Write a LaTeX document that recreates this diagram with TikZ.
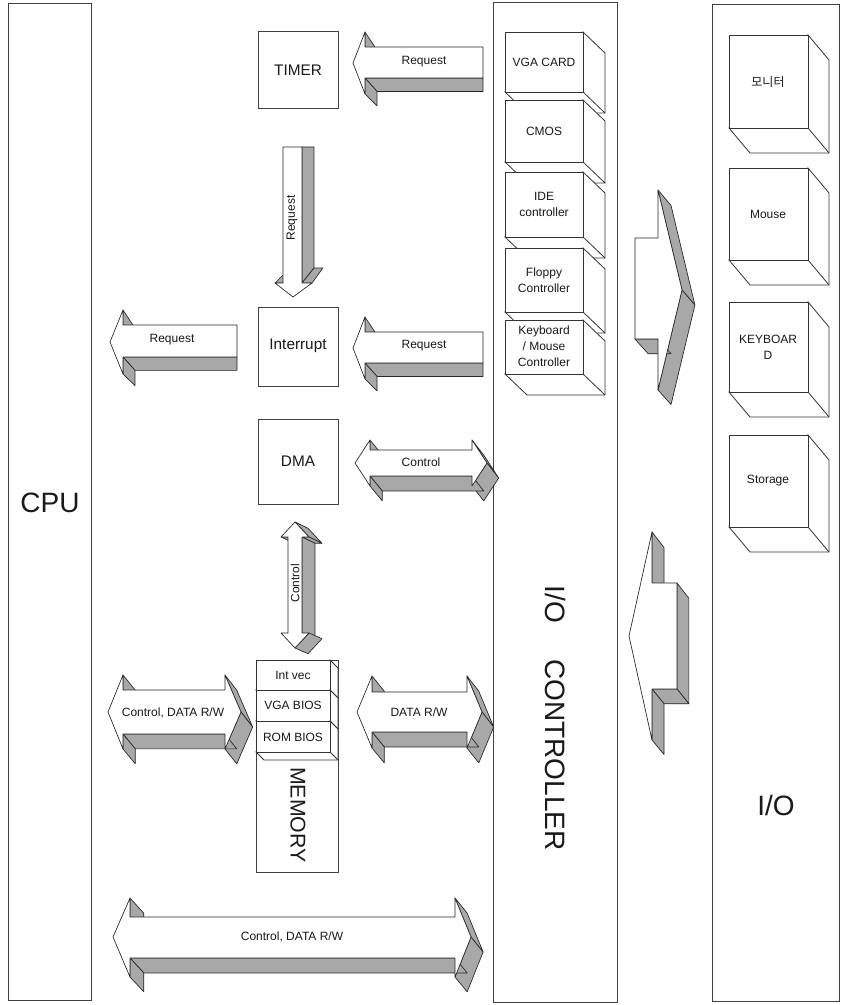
\documentclass[tikz,border=0pt]{standalone}
\usepackage{fontspec}
\setmainfont{Liberation Sans}
\newfontfamily\kofont{Noto Sans CJK KR}
\tikzset{
  box/.style={draw=black!75, line width=0.6pt},
  cubeface/.style={draw=black!80, fill=white, line width=0.6pt},
  arrside/.style={fill=black!34, draw=black!85, line width=0.5pt, line join=round},
  arrfront/.style={fill=white, draw=black!85, line width=0.5pt, line join=round},
  lbl/.style={font=\fontsize{9}{12}\selectfont, align=center, inner sep=0pt, text=black!90},
  midlbl/.style={font=\fontsize{11.5}{13}\selectfont, inner sep=0pt, text=black!90},
  biglbl/.style={font=\fontsize{21}{24}\selectfont, inner sep=0pt, text=black!90},
  memlbl/.style={font=\fontsize{16}{18}\selectfont, inner sep=0pt, text=black!90}
}
% block arrow: #1,#2 vanishing point, #3 depth factor, #4,#5 first point, #6 other points (clockwise on screen)
\newcommand\blockarrow[6]{%
  \foreach \x/\y [remember=\x as \px (initially #4), remember=\y as \py (initially #5)] in {#6,#4/#5}{%
    \pgfmathsetmacro\dxa{#3*(#1-\px)}%
    \pgfmathsetmacro\dya{#3*(#2-\py)}%
    \pgfmathsetmacro\dxb{#3*(#1-\x)}%
    \pgfmathsetmacro\dyb{#3*(#2-\y)}%
    \pgfmathsetmacro\bsgn{(\x-\px)*(\dya+\dyb)/2-(\y-\py)*(\dxa+\dxb)/2}%
    \ifdim\bsgn pt<-0.01pt
      \filldraw[arrside] (\px,\py) -- (\x,\y) -- ({\x+\dxb},{\y+\dyb}) -- ({\px+\dxa},{\py+\dya}) -- cycle;
    \fi
  }%
  \filldraw[arrfront] (#4,#5) \foreach \x/\y in {#6}{ -- (\x,\y)} -- cycle;
}
% cube: #1,#2 top-left, #3,#4 bottom-right of front, #5,#6 depth
\newcommand\cubebox[6]{%
  \filldraw[cubeface] (#3,#2) -- ({#3+#5},{#2+#6}) -- ({#3+#5},{#4+#6}) -- ({#1+#5},{#4+#6}) -- (#1,#4) -- (#3,#4) -- cycle;
  \draw[cubeface] (#3,#4) -- ({#3+#5},{#4+#6});
  \filldraw[cubeface] (#1,#2) rectangle (#3,#4);
}
\begin{document}
\begin{tikzpicture}[x=0.75pt,y=-0.75pt]
\fill[white] (0,0) rectangle (841,1005);
\useasboundingbox (0,0) rectangle (841,1005);

% big columns
\draw[box] (8,3) rectangle (91,1000);
\node[biglbl] (cpu) at (50,503) {CPU};
\draw[box] (493,2) rectangle (617,1002);
\node[biglbl, rotate=-90] (ioc) at (555,718) {I/O\hspace{1.3em}CONTROLLER};
\draw[box] (712,4) rectangle (839,1001);
\node[biglbl] (io) at (776,805) {I/O};

% middle boxes
\draw[box] (258,31) rectangle (338,108);
\node[midlbl] (timer) at (298,70) {TIMER};
\draw[box] (258,307) rectangle (338,386);
\node[midlbl] (intr) at (298,346) {Interrupt};
\draw[box] (258,419) rectangle (338,504);
\node[midlbl] (dma) at (298,461) {DMA};

% memory
\draw[box] (256,660) rectangle (338,872);
\cubebox{256}{660}{330}{690}{8}{8}
\node[lbl] (intvec) at (293,675) {Int vec};
\cubebox{256}{690}{330}{721}{8}{8}
\node[lbl] (vgabios) at (293,705) {VGA BIOS};
\cubebox{256}{721}{330}{752}{8}{8}
\node[lbl] (rombios) at (293,737) {ROM BIOS};
\node[memlbl, rotate=-90] (mem) at (298,815) {MEMORY};

% I/O controller cards
\cubebox{505}{32}{583}{92}{22}{21}
\node[lbl] (vga) at (544,62) {VGA CARD};
\cubebox{505}{100}{583}{162}{22}{21}
\node[lbl] (cmos) at (544,131) {CMOS};
\cubebox{505}{172}{583}{237}{22}{21}
\node[lbl] (ide) at (544,204) {IDE\\controller};
\cubebox{505}{248}{583}{312}{22}{21}
\node[lbl] (floppy) at (544,280) {Floppy\\Controller};
\cubebox{505}{320}{583}{374}{22}{21}
\node[lbl] (kbd) at (544,346) {Keyboard\\/ Mouse\\Controller};

% I/O devices
\cubebox{729}{35}{808}{128}{21}{25}
\node[lbl] (mon) at (768,82) {\kofont 모니터};
\cubebox{729}{168}{808}{260}{21}{25}
\node[lbl] (mouse) at (768,214) {Mouse};
\cubebox{729}{302}{808}{392}{21}{25}
\node[lbl] (keyb) at (768,347) {KEYBOAR\\D};
\cubebox{729}{435}{808}{527}{21}{25}
\node[lbl] (stor) at (768,481) {Storage};

% arrows
\blockarrow{483}{210}{0.1017}{353}{63}{365/32, 365/47, 483/47, 483/78, 365/78, 365/94}
\node[lbl] (treq) at (424,62) {Request};
\blockarrow{483}{495}{0.1017}{353}{348}{365/317, 365/332, 483/332, 483/363, 365/363, 365/379}
\node[lbl] (ireq) at (424,346) {Request};
\blockarrow{237}{484}{0.105}{110}{342}{123/310, 123/325, 237/325, 237/357, 123/357, 123/374}
\node[lbl] (creq) at (172,340) {Request};
\blockarrow{411}{147}{0.110}{293}{297}{275/283, 283/283, 283/147, 302/147, 302/283, 312/283}
\node[lbl, rotate=90] (vreq) at (292,218) {Request};
\blockarrow{2895}{1785}{0.005}{295}{522}{309/537, 302/537, 302/633, 309/633, 295/648, 281/633, 288/633, 288/537, 281/537}
\node[lbl, rotate=90] (vctl) at (295,583) {Control};
\blockarrow{2821}{3463}{0.005}{355}{463}{370/440, 370/450, 472/450, 472/440, 487/463, 472/486, 472/476, 370/476, 370/486}
\node[lbl] (dctl) at (421,462) {Control};
\blockarrow{2575}{3712}{0.005}{108}{712}{123/675, 123/690, 225/690, 225/675, 241/712, 225/749, 225/734, 123/734, 123/749}
\node[lbl] (mctl) at (173,713) {Control, DATA R/W};
\blockarrow{2820}{3712}{0.005}{357}{712}{372/676, 372/692, 467/692, 467/676, 482/712, 467/748, 467/732, 372/732, 372/748}
\node[lbl] (mdat) at (419,712) {DATA R/W};
\blockarrow{2892}{3937}{0.005}{113}{937}{130/898, 130/917, 455/917, 455/898, 471/937, 455/977, 455/958, 130/958, 130/977}
\node[lbl] (bctl) at (292,937) {Control, DATA R/W};
\blockarrow{3258}{3290}{0.005}{635}{238}{658/238, 658/190, 682/290, 658/390, 658/339, 635/339}
\blockarrow{3052}{3636}{0.005}{629}{636}{652/532, 652/583, 677/583, 677/689, 652/689, 652/740}
\end{tikzpicture}
\end{document}
